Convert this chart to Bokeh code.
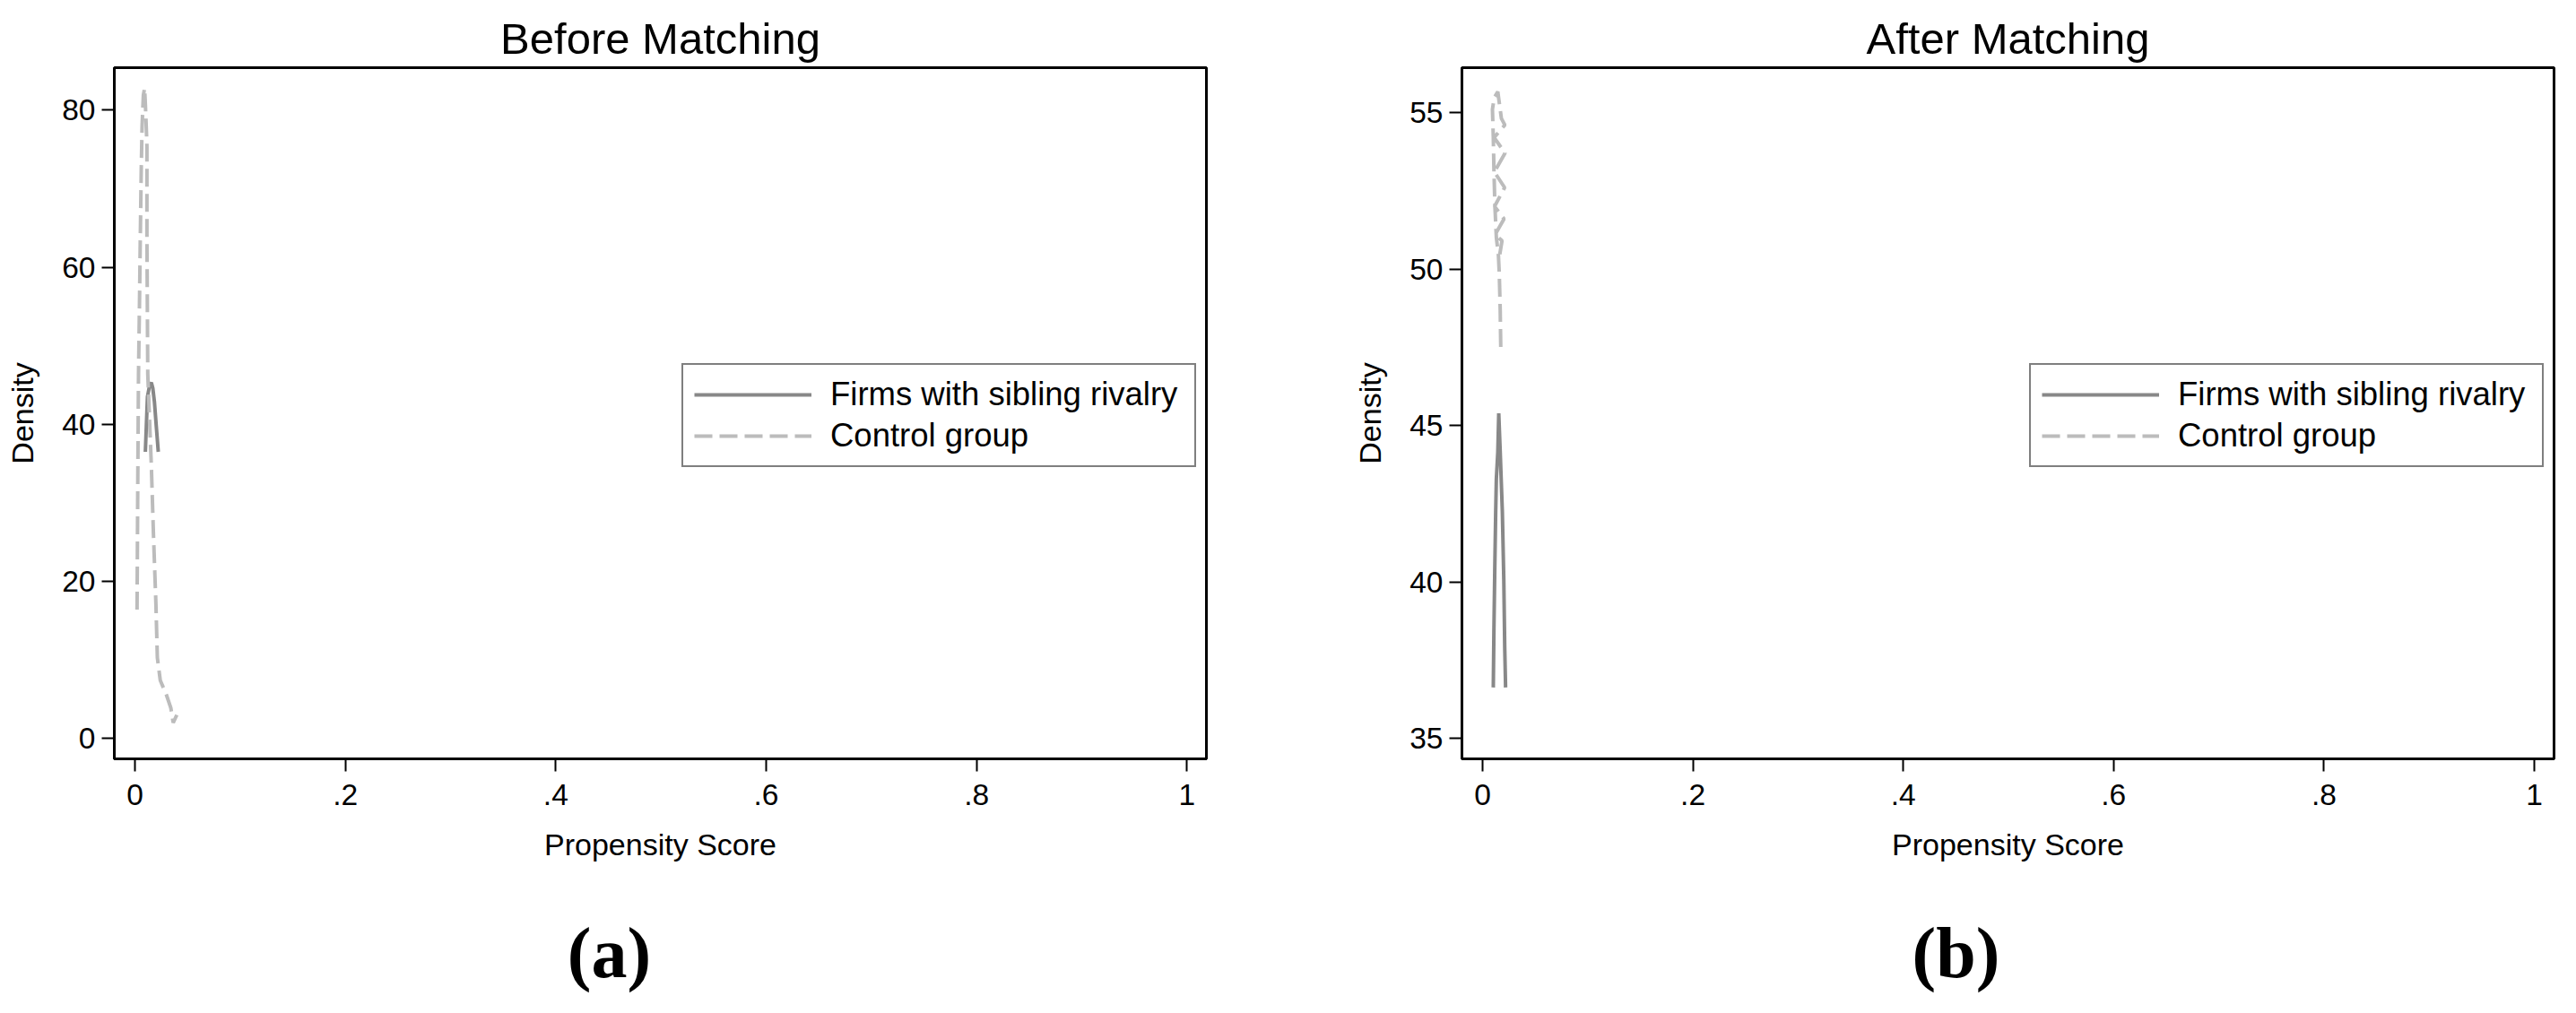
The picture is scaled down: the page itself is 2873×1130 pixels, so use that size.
from bokeh.plotting import figure
from bokeh.models import Range1d, FixedTicker, Legend, LegendItem
from bokeh.layouts import row, column
from bokeh.core.properties import value
from bokeh.embed import file_html
from bokeh.resources import INLINE

# ---- data -------------------------------------------------------------
x_ticks = [0, 0.2, 0.4, 0.6, 0.8, 1]
x_tick_labels = ["0", ".2", ".4", ".6", ".8", "1"]

before_y_ticks = [0, 20, 40, 60, 80]
after_y_ticks = [35, 40, 45, 50, 55]

series_names = ["Firms with sibling rivalry", "Control group"]
panel_titles = ["Before Matching", "After Matching"]
panel_tags = ["(a)", "(b)"]

# Before matching: treated firms (solid)
before_treat_ps = [0.0099, 0.0119, 0.0140, 0.0156, 0.0170, 0.0185, 0.0205, 0.0222]
before_treat_den = [36.5, 43.5, 45.0, 45.3, 44.6, 42.9, 39.4, 36.5]
# Before matching: control group (dashed)
before_ctrl_ps = [0.0020, 0.0023, 0.0028, 0.0034, 0.0043, 0.0051, 0.0060, 0.0068,
                  0.0080, 0.0092, 0.0100, 0.0110, 0.0114, 0.0114, 0.0122, 0.0156,
                  0.0176, 0.0199, 0.0213, 0.0241, 0.0298, 0.0341, 0.0364, 0.0398]
before_ctrl_den = [16.4, 23.0, 34.7, 46.4, 55.1, 63.8, 72.5, 78.0,
                   81.9, 82.8, 80.5, 77.0, 75.4, 63.8, 46.4, 34.7,
                   26.0, 17.3, 10.3, 7.4, 5.6, 3.9, 2.0, 3.0]

# After matching: treated firms (solid)
after_treat_ps = [0.0102, 0.0108, 0.0116, 0.0125, 0.0131, 0.0145, 0.0154,
                  0.0168, 0.0188, 0.0202, 0.0211, 0.0219]
after_treat_den = [36.63, 38.46, 40.36, 42.26, 43.28, 44.15, 45.39,
                   44.15, 42.26, 40.07, 37.88, 36.63]
# After matching: control group (dashed)
after_ctrl_ps = [0.0173, 0.0168, 0.0159, 0.0151, 0.0131, 0.0117, 0.0108, 0.0102,
                 0.0094, 0.0111, 0.0145, 0.0179, 0.0212, 0.0110, 0.0214, 0.0112,
                 0.0210, 0.0114, 0.0204, 0.0120, 0.0185, 0.0162]
after_ctrl_den = [47.51, 48.68, 49.85, 50.43, 51.01, 52.04, 53.20, 54.23,
                  55.10, 55.47, 55.66, 54.81, 54.60, 54.20, 53.70, 53.10,
                  52.60, 52.00, 51.60, 51.10, 50.90, 50.43]

# ---- styling ----------------------------------------------------------
SANS = "Liberation Sans"
SERIF = "Liberation Serif"
TREAT_COLOR = "#888888"
CTRL_COLOR = "#bcbcbc"
PLOT_H = 1000
TAG_H = 114


def make_panel(title, y_ticks, x_rng, y_rng, tx, ty, cx, cy,
               width, border_left, border_right, legend_x):
    p = figure(width=width, height=PLOT_H, output_backend="svg", toolbar_location=None,
               x_range=Range1d(*x_rng), y_range=Range1d(*y_rng),
               min_border_left=border_left, min_border_right=border_right,
               min_border_top=75, min_border_bottom=PLOT_H - 846)
    p.grid.visible = False
    p.background_fill_color = "white"
    p.border_fill_color = "white"
    p.outline_line_color = "black"
    p.outline_line_width = 3

    p.title.text = title
    p.title.align = "center"
    p.title.text_font = SANS
    p.title.text_font_size = "49px"
    p.title.text_font_style = "normal"
    p.title.text_color = "black"
    p.title.standoff = 12

    for ax in (p.xaxis[0], p.yaxis[0]):
        ax.axis_line_color = "black"
        ax.axis_line_width = 3
        ax.major_tick_line_color = "black"
        ax.major_tick_line_width = 2
        ax.major_tick_out = 14
        ax.major_tick_in = 0
        ax.minor_tick_line_color = None
        ax.major_label_text_font = SANS
        ax.major_label_text_font_size = "33.5px"
        ax.major_label_text_color = "black"
        ax.axis_label_text_font = SANS
        ax.axis_label_text_font_size = "34px"
        ax.axis_label_text_font_style = "normal"
        ax.axis_label_text_color = "black"

    p.xaxis.ticker = FixedTicker(ticks=x_ticks)
    p.xaxis.major_label_overrides = {t: l for t, l in zip(x_ticks, x_tick_labels)}
    p.xaxis.axis_label = "Propensity Score"
    p.xaxis.major_label_standoff = 14
    p.xaxis.axis_label_standoff = 22

    p.yaxis.ticker = FixedTicker(ticks=y_ticks)
    p.yaxis.major_label_orientation = "horizontal"
    p.yaxis.axis_label = "Density"
    p.yaxis.major_label_standoff = 7
    p.yaxis.axis_label_standoff = 22

    r_t = p.line(tx, ty, line_color=TREAT_COLOR, line_width=4)
    r_c = p.line(cx, cy, line_color=CTRL_COLOR, line_width=4, line_dash="20 8")

    legend = Legend(items=[LegendItem(label=series_names[0], renderers=[r_t]),
                           LegendItem(label=series_names[1], renderers=[r_c])],
                    location=(legend_x, 325), margin=0, padding=12, spacing=4,
                    glyph_width=131, glyph_height=40, label_height=40,
                    label_width=394, label_standoff=21, label_text_font=SANS,
                    label_text_font_size="36.5px", label_text_color="black",
                    border_line_color="black", border_line_width=2.5,
                    background_fill_color="white", background_fill_alpha=1)
    p.add_layout(legend, "center")
    return p


def make_tag(tag, width, tag_x):
    t = figure(width=width, height=TAG_H, output_backend="svg", toolbar_location=None,
               x_range=Range1d(0, width), y_range=Range1d(TAG_H, 0),
               x_axis_type=None, y_axis_type=None, min_border=0)
    t.outline_line_color = None
    t.background_fill_color = "white"
    t.border_fill_color = "white"
    t.text(x=[tag_x], y=[62], text=[tag], text_font=value(SERIF),
           text_font_style="bold", text_font_size="80px", text_color="black",
           text_align="center", text_baseline="middle")
    return t


p1 = make_panel(panel_titles[0], before_y_ticks,
                (-0.0196, 1.0185), (-2.59, 85.40),
                before_treat_ps, before_treat_den, before_ctrl_ps, before_ctrl_den,
                width=1448, border_left=127, border_right=103, legend_x=633)
p2 = make_panel(panel_titles[1], after_y_ticks,
                (-0.0196, 1.0188), (34.35, 56.43),
                after_treat_ps, after_treat_den, after_ctrl_ps, after_ctrl_den,
                width=1409, border_left=182, border_right=9, legend_x=633)
t1 = make_tag(panel_tags[0], 1448, 679)
t2 = make_tag(panel_tags[1], 1409, 733)

layout = column(row(p1, p2), row(t1, t2))
open("out.html", "w").write(file_html(layout, INLINE))
